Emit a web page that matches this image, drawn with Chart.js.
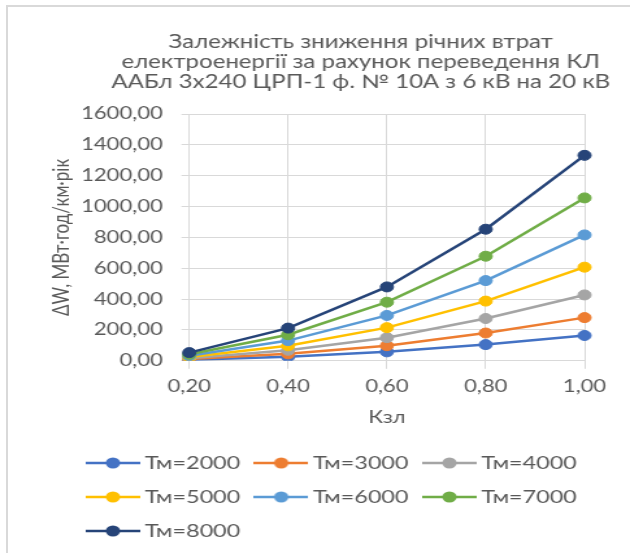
<!DOCTYPE html>
<html lang="uk">
<head>
<meta charset="utf-8">
<title>Залежність зниження річних втрат електроенергії</title>
<script src="https://cdn.jsdelivr.net/npm/chart.js@4.4.1/dist/chart.umd.min.js"></script>
<style>
  html, body { margin: 0; padding: 0; background: #ffffff; overflow: hidden; }
  #wrap { position: relative; width: 630px; height: 553px; overflow: hidden; }
  #frame {
    position: absolute; left: 6px; top: 5px; width: 700px; height: 700px;
    border-left: 2px solid #d9d9d9; border-top: 2px solid #d9d9d9;
  }
  #c { position: absolute; left: 0; top: 0; transform: scaleX(1.29897); transform-origin: 0 0; }
</style>
</head>
<body>
<div id="wrap">
  <div id="frame"></div>
  <canvas id="c" width="485" height="553"></canvas>
</div>
<script>
// Коефіцієнт завантаження лінії (вісь X)
const kzl = [0.2, 0.4, 0.6, 0.8, 1.0];

// Зниження річних втрат, МВт·год/км·рік, для різних Тм
const tm2000 = [7, 26, 58, 105, 164];
const tm3000 = [11, 45, 98, 180, 280];
const tm4000 = [17, 68, 150, 274, 427];
const tm5000 = [24, 97, 215, 387, 607];
const tm6000 = [33, 131, 294, 520, 816];
const tm7000 = [42, 169, 380, 678, 1056];
const tm8000 = [53, 212, 479, 853, 1332];

const seriesNames = ['Тм=2000', 'Тм=3000', 'Тм=4000', 'Тм=5000', 'Тм=6000', 'Тм=7000', 'Тм=8000'];
const seriesValues = [tm2000, tm3000, tm4000, tm5000, tm6000, tm7000, tm8000];
const seriesColors = ['#4472C4', '#ED7D31', '#A5A5A5', '#FFC000', '#5B9BD5', '#70AD47', '#264478'];

const titleLines = [
  'Залежність зниження річних втрат',
  'електроенергії за рахунок переведення КЛ',
  'ААБл 3х240 ЦРП-1 ф. № 10А з 6 кВ на 20 кВ'
];
const yTitle = 'ΔW, МВт·год/км·рік';
const xTitle = 'Кзл';

const yMin = 0, yMax = 1600, yStep = 200;

const fmt = v => Number(v).toFixed(2).replace('.', ',');
const textColor = '#595959';
const gridColor = '#d9d9d9';

// Legend symbol: short line with a round marker in the middle
function legendSymbol(color) {
  const c = document.createElement('canvas');
  c.width = 42; c.height = 12;
  const g = c.getContext('2d');
  g.strokeStyle = color;
  g.lineWidth = 2.5;
  g.beginPath(); g.moveTo(0, 6); g.lineTo(42, 6); g.stroke();
  g.fillStyle = color;
  g.beginPath(); g.arc(21, 6, 5.5, 0, Math.PI * 2); g.fill();
  return c;
}

const datasets = seriesNames.map((name, i) => ({
  label: name,
  data: seriesValues[i],
  borderColor: seriesColors[i],
  backgroundColor: seriesColors[i],
  pointBackgroundColor: seriesColors[i],
  pointBorderColor: seriesColors[i],
  borderWidth: 2.5,
  pointRadius: 5,
  pointBorderWidth: 1,
  tension: 0,
  fill: false,
  order: seriesNames.length - i
}));

// Places the title block and legend rows horizontally
const boxPlacement = {
  id: 'boxPlacement',
  afterLayout(chart) {
    const t = chart.titleBlock;
    if (t) {
      const dx = 277.7 - (t.left + t.right) / 2;
      t.left += dx; t.right += dx;
    }
    const lg = chart.legend;
    if (lg) { lg.left = 55.4; lg.right = chart.width; }
  }
};

Chart.defaults.font.family = 'Lato';
Chart.defaults.color = textColor;

new Chart(document.getElementById('c'), {
  type: 'line',
  data: { labels: kzl.map(fmt), datasets },
  plugins: [boxPlacement],
  options: {
    responsive: false,
    devicePixelRatio: 1,
    animation: false,
    layout: { padding: { left: 20, right: 35, top: 0, bottom: 3 } },
    plugins: {
      title: {
        display: true,
        text: titleLines,
        color: textColor,
        font: { family: 'Lato', size: 18.5, weight: 'normal', lineHeight: 20 / 18.5 },
        padding: { top: 32, bottom: 22 }
      },
      legend: {
        display: true,
        position: 'bottom',
        align: 'start',
        labels: {
          usePointStyle: true,
          pointStyleWidth: 31,
          padding: 16,
          color: textColor,
          font: { family: 'Lato', size: 18 },
          generateLabels: (chart) => chart.data.datasets.map((ds, i) => ({
            text: ds.label,
            fillStyle: ds.borderColor,
            strokeStyle: ds.borderColor,
            lineWidth: 0,
            pointStyle: legendSymbol(ds.borderColor),
            fontColor: textColor,
            hidden: !chart.isDatasetVisible(i),
            datasetIndex: i
          }))
        }
      },
      tooltip: { enabled: false }
    },
    scales: {
      x: {
        type: 'category',
        offset: false,
        grid: { color: gridColor, lineWidth: 1, tickLength: 8, tickColor: gridColor, drawTicks: true },
        border: { color: gridColor, width: 1 },
        ticks: { color: textColor, font: { family: 'Lato', size: 17 }, padding: 8, maxRotation: 0 },
        title: {
          display: true, text: xTitle, color: textColor,
          font: { family: 'Lato', size: 17 },
          padding: { top: 2.6, bottom: 9.8 }
        }
      },
      y: {
        min: yMin, max: yMax,
        grid: { color: gridColor, lineWidth: 1, tickLength: 6, tickColor: gridColor },
        border: { color: gridColor, width: 1 },
        ticks: {
          stepSize: yStep, color: textColor, padding: 14.3,
          font: { family: 'Lato', size: 17 },
          callback: v => fmt(v)
        },
        title: {
          display: true, text: yTitle, color: textColor,
          font: { family: 'Lato', size: 17, lineHeight: 0.04 },
          padding: { top: 27.4, bottom: 0 }
        }
      }
    }
  }
});
</script>
</body>
</html>
